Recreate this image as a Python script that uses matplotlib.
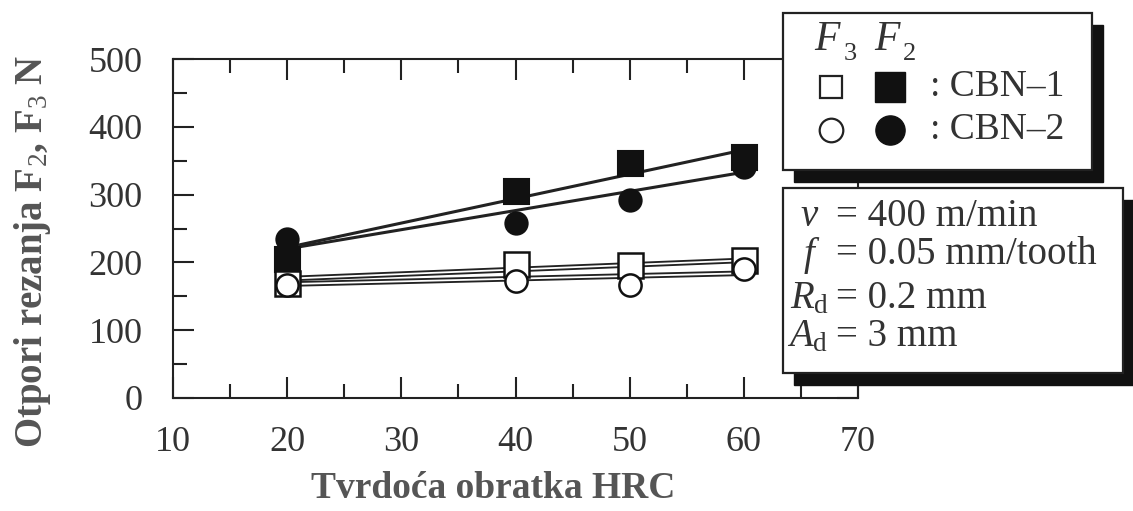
import numpy as np
import matplotlib
matplotlib.use("Agg")
import matplotlib.pyplot as plt
from matplotlib.patches import Rectangle

plt.rcParams['font.family'] = ['Liberation Serif', 'DejaVu Serif']
plt.rcParams['mathtext.fontset'] = 'custom'
plt.rcParams['mathtext.rm'] = 'Liberation Serif'
plt.rcParams['mathtext.it'] = 'Liberation Serif:italic'
plt.rcParams['mathtext.bf'] = 'Liberation Serif:bold'

# data
hrc = [20, 40, 50, 60]
f2_cbn1 = [205, 305, 347, 355]   # filled squares
f2_cbn2 = [235, 258, 292, 340]   # filled circles
f3_cbn1 = [170, 198, 196, 203]   # open squares
f3_cbn2 = [167, 172, 167, 191]   # open circles

# trend lines (values at 20 and 60 HRC)
trend_x = [20, 60]
trend_f2_cbn1 = [222, 366]
trend_f2_cbn2 = [220, 333]
trend_f3_cbn1 = [176, 203]
trend_f3_cbn2 = [168, 184]

x_ticks = [10, 20, 30, 40, 50, 60, 70]
y_ticks = [0, 100, 200, 300, 400, 500]

param_sym = [r'$v$', r'$f$', r'$R_{\mathrm{d}}$', r'$A_{\mathrm{d}}$']
param_val = ['= 400 m/min', '= 0.05 mm/tooth', '= 0.2 mm', '= 3 mm']

W, H = 1133, 511
fig = plt.figure(figsize=(W / 100, H / 100), dpi=100)
ax = fig.add_axes([173 / W, 1 - 398 / H, (858 - 173) / W, (398 - 59) / H])

# F2 trend lines
ax.plot(trend_x, trend_f2_cbn1, color='#222222', lw=2.2, zorder=2)
ax.plot(trend_x, trend_f2_cbn2, color='#222222', lw=2.2, zorder=2)
# F3 trend lines (double-line look)
for ty in (trend_f3_cbn1, trend_f3_cbn2):
    ax.plot(trend_x, ty, color='#222222', lw=4.0, zorder=2)
    ax.plot(trend_x, ty, color='white', lw=1.3, zorder=2.1)

ax.plot(hrc, f2_cbn1, ls='none', marker='s', ms=18, mfc='#111111', mec='#111111', mew=1.5, zorder=3)
ax.plot(hrc, f2_cbn2, ls='none', marker='o', ms=16, mfc='#111111', mec='#111111', mew=1.5, zorder=4)
ax.plot(hrc, f3_cbn1, ls='none', marker='s', ms=18, mfc='white', mec='#111111', mew=1.8, zorder=5)
ax.plot(hrc, f3_cbn2, ls='none', marker='o', ms=16, mfc='white', mec='#111111', mew=1.8, zorder=6)

ax.set_xlim(10, 70)
ax.set_ylim(0, 500)
ax.set_xticks(x_ticks)
ax.set_yticks(y_ticks)
ax.set_xticks(np.arange(15, 70, 10), minor=True)
ax.set_yticks(np.arange(50, 500, 100), minor=True)
ax.tick_params(which='both', direction='in', top=True, right=True, width=1.5,
               labelsize=26, labelcolor='#333333', color='#222222')
ax.tick_params(which='major', length=15)
ax.tick_params(which='minor', length=10)
ax.tick_params(axis='x', pad=20)
ax.tick_params(axis='y', pad=22)
for s in ax.spines.values():
    s.set_linewidth(1.5)
    s.set_color('#222222')

fig.text(33 / W, 1 - 252 / H, r'Otpori rezanja F$_{2}$, F$_{3}$ N', rotation=90,
         ha='center', va='center', fontsize=28, fontweight='bold', color='#555555')
fig.text(493 / W, 1 - 488 / H, 'Tvrdoća obratka HRC', ha='center', va='center',
         fontsize=27, fontweight='bold', color='#555555')

# overlay in pixel coordinates for the boxes
ov = fig.add_axes([0, 0, 1, 1], zorder=10)
ov.set_xlim(0, W)
ov.set_ylim(H, 0)
ov.axis('off')
ov.patch.set_alpha(0)


def box(x0, y0, x1, y1, dx, dy):
    ov.add_patch(Rectangle((x0 + dx, y0 + dy), x1 - x0, y1 - y0, facecolor='#111111',
                           edgecolor='#111111', lw=1))
    ov.add_patch(Rectangle((x0, y0), x1 - x0, y1 - y0, facecolor='white',
                           edgecolor='#222222', lw=1.6))


box(783, 13, 1092, 170, 11, 12)
box(783, 188, 1123, 373, 11, 12)

# legend content
ov.text(828, 40, r'$F$', fontsize=30, ha='center', va='center', color='#333333')
ov.text(850, 54, '3', fontsize=19, ha='center', va='center', color='#333333')
ov.text(888, 40, r'$F$', fontsize=30, ha='center', va='center', color='#333333')
ov.text(909, 54, '2', fontsize=19, ha='center', va='center', color='#333333')
ov.plot([831], [87], marker='s', ms=16, mfc='white', mec='#222222', mew=1.6)
ov.plot([890], [87], marker='s', ms=22, mfc='#111111', mec='#111111')
ov.plot([831], [130], marker='o', ms=17, mfc='white', mec='#222222', mew=1.6)
ov.plot([890], [130], marker='o', ms=21, mfc='#111111', mec='#111111')
ov.text(930, 87, ': CBN–1', fontsize=27, ha='left', va='center', color='#333333')
ov.text(930, 130, ': CBN–2', fontsize=27, ha='left', va='center', color='#333333')

sym_x = [810, 812, 810, 808]
row_y = [217, 255, 299, 337]
for s, v, sx, ry in zip(param_sym, param_val, sym_x, row_y):
    ov.text(sx, ry, s, fontsize=28, ha='center', va='center', color='#333333')
    ov.text(836, ry, v, fontsize=28, ha='left', va='center', color='#333333')

fig.savefig('out.png', dpi=100)
